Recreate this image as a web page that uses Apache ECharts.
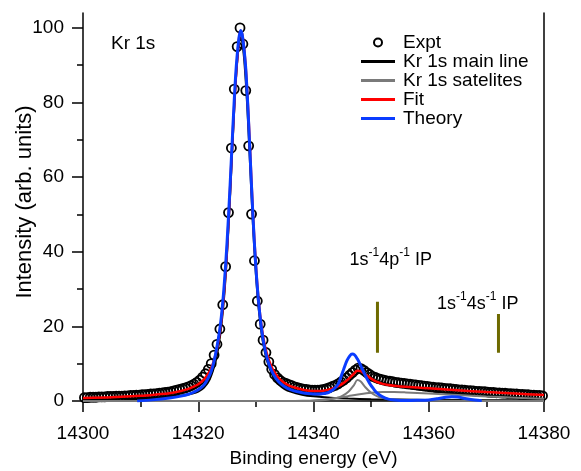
<!DOCTYPE html>
<html><head><meta charset="utf-8">
<script src="https://cdn.jsdelivr.net/npm/echarts@6/dist/echarts.min.js"></script>
<style>html,body{margin:0;padding:0;background:#fff}#c{width:581px;height:471px}</style>
</head><body><div id="c"></div>
<script>
// ---------------- data ----------------
const exptEnergy = [
14300.25,14300.75,14301.25,14301.75,14302.25,14302.75,14303.25,14303.75,14304.25,14304.75,
14305.25,14305.75,14306.25,14306.75,14307.25,14307.75,14308.25,14308.75,14309.25,14309.75,
14310.25,14310.75,14311.25,14311.75,14312.25,14312.75,14313.25,14313.75,14314.25,14314.75,
14315.25,14315.75,14316.25,14316.75,14317.25,14317.75,14318.25,14318.75,14319.25,14319.75,
14320.25,14320.75,14321.25,14321.75,14322.25,14322.75,14323.25,14323.75,14324.25,14324.75,
14325.25,14325.75,14326.25,14326.75,14327.25,14327.75,14328.25,14328.75,14329.25,14329.75,
14330.25,14330.75,14331.25,14331.75,14332.25,14332.75,14333.25,14333.75,14334.25,14334.75,
14335.25,14335.75,14336.25,14336.75,14337.25,14337.75,14338.25,14338.75,14339.25,14339.75,
14340.25,14340.75,14341.25,14341.75,14342.25,14342.75,14343.25,14343.75,14344.25,14344.75,
14345.25,14345.75,14346.25,14346.75,14347.25,14347.75,14348.25,14348.75,14349.25,14349.75,
14350.25,14350.75,14351.25,14351.75,14352.25,14352.75,14353.25,14353.75,14354.25,14354.75,
14355.25,14355.75,14356.25,14356.75,14357.25,14357.75,14358.25,14358.75,14359.25,14359.75,
14360.25,14360.75,14361.25,14361.75,14362.25,14362.75,14363.25,14363.75,14364.25,14364.75,
14365.25,14365.75,14366.25,14366.75,14367.25,14367.75,14368.25,14368.75,14369.25,14369.75,
14370.25,14370.75,14371.25,14371.75,14372.25,14372.75,14373.25,14373.75,14374.25,14374.75,
14375.25,14375.75,14376.25,14376.75,14377.25,14377.75,14378.25,14378.75,14379.25,14379.75];
const exptIntensity = [
0.9,0.9,1.0,1.0,1.0,1.1,1.1,1.1,1.2,1.2,
1.2,1.3,1.3,1.3,1.4,1.4,1.5,1.5,1.6,1.6,
1.7,1.7,1.8,1.9,1.9,2.0,2.1,2.2,2.3,2.4,
2.5,2.7,2.9,3.1,3.3,3.5,3.8,4.1,4.5,5.0,
5.6,6.4,7.3,8.5,10.0,12.3,15.2,19.3,25.8,36.0,
50.5,67.8,83.6,95.0,100.0,95.7,83.2,68.4,50.1,37.6,
26.8,20.6,16.3,13.0,10.5,8.5,7.1,6.2,5.5,5.0,
4.7,4.4,4.1,3.8,3.6,3.4,3.2,3.1,3.0,2.9,
2.9,2.9,3.0,3.1,3.3,3.6,3.9,4.2,4.6,5.1,
5.6,6.2,6.9,7.6,8.3,8.8,8.7,8.2,7.6,7.1,
6.6,6.3,6.0,5.8,5.6,5.4,5.3,5.2,5.0,4.9,
4.8,4.7,4.6,4.5,4.4,4.3,4.2,4.1,4.0,3.9,
3.8,3.7,3.6,3.6,3.5,3.4,3.3,3.3,3.2,3.1,
3.0,3.0,2.9,2.8,2.8,2.7,2.6,2.6,2.5,2.5,
2.4,2.3,2.3,2.2,2.2,2.1,2.1,2.0,2.0,1.9,
1.9,1.8,1.8,1.7,1.7,1.6,1.6,1.5,1.5,1.4];

const mainEnergy = [14300,14305,14310,14314,14317,14319,14320,14321,14322,14323,14323.5,14324,14324.5,14325,14325.5,14326,14326.5,14327,14327.3,14327.6,14328,14328.5,14329,14329.5,14330,14330.5,14331,14331.5,14332,14333,14334,14335,14336,14338,14340,14343,14346,14350,14355,14360,14370,14380];
const mainIntensity = [0.45,0.55,0.75,1.0,1.4,2.0,2.5,3.6,5.8,10.5,14.5,20,28,39.5,54,70.5,85.5,95,97.5,96.5,91,79,63,47,34,24.5,18,13.5,10.5,6.5,4.4,3.2,2.5,1.7,1.25,0.85,0.65,0.5,0.38,0.3,0.22,0.17];

const sat1Energy = [14300,14338,14340,14342,14343,14344,14345,14346,14347,14347.6,14348.2,14349,14350,14351,14352,14354,14357,14362,14380];
const sat1Intensity = [0,0,0.1,0.3,0.5,0.8,1.4,2.4,4.2,5.6,5.2,3.7,2.2,1.3,0.8,0.35,0.15,0.05,0];

const sat2Energy = [14300,14336,14338,14340,14342,14344,14346,14348,14350,14352,14354,14356,14360,14365,14370,14375,14380];
const sat2Intensity = [0,0,0.05,0.15,0.4,0.8,1.3,1.8,2.2,2.4,2.4,2.3,2.0,1.6,1.2,0.9,0.6];

const fitEnergy = [14300,14305,14310,14313,14315,14317,14318,14319,14320,14321,14322,14322.5,14323,14323.5,14324,14324.5,14325,14325.5,14326,14326.5,14327,14327.3,14327.6,14328,14328.5,14329,14329.5,14330,14330.5,14331,14331.5,14332,14332.5,14333,14334,14335,14336,14337,14338,14339,14340,14341,14342,14343,14344,14345,14346,14347,14347.6,14348.2,14349,14350,14351,14352,14353,14354,14356,14358,14360,14365,14370,14375,14380];
const fitIntensity = [0.8,1.0,1.4,1.8,2.1,2.7,3.1,3.7,4.5,5.8,8.0,9.8,12.4,16.0,21.5,29.5,41,56,72,86,96,99.2,98.5,94,83,67,50,36.5,26.5,19.8,15.3,12.2,10.0,8.3,6.1,4.8,4.0,3.5,3.1,2.8,2.65,2.65,2.85,3.2,3.8,4.6,5.8,7.3,8.1,8.0,7.1,6.0,5.1,4.6,4.3,4.1,3.8,3.6,3.4,2.9,2.4,2.0,1.6];

const theoryEnergy = [14309.4,14312,14315,14317,14318.5,14320,14321,14322,14322.5,14323,14323.5,14324,14324.5,14325,14325.5,14326,14326.5,14327,14327.35,14327.7,14328.2,14328.7,14329.2,14329.7,14330.2,14330.7,14331.2,14331.7,14332.2,14332.7,14333.5,14334.5,14335.5,14336.5,14337.5,14338.5,14339.5,14340.5,14341.5,14342.5,14343.2,14343.8,14344.3,14344.8,14345.3,14345.8,14346.3,14346.7,14347.1,14347.6,14348.1,14348.6,14349.2,14349.8,14350.4,14351,14352,14353,14354,14356,14358,14360,14361.5,14363,14364,14365,14366.5,14368,14369.2];
const theoryIntensity = [0.0,0.3,0.8,1.3,1.9,3.0,4.3,7.0,9.2,12.5,16.8,22.5,31,42.5,57,73,87.5,96.5,99.3,97.5,90,76,59,43.5,31.5,23,17,13,10.2,8.2,6.0,4.4,3.4,2.8,2.4,2.1,1.95,1.9,1.95,2.2,2.8,3.6,4.6,6.6,8.8,10.8,12.1,12.6,12.4,11.3,9.8,8.1,6.2,4.6,3.3,2.2,1.1,0.5,0.3,0.15,0.2,0.3,0.6,1.0,1.15,1.05,0.6,0.25,0.1];

const ipEnergy = [14351.1, 14372.1];
const ipLineTop = [26.6, 23.3];
const ipLineBottom = [12.9, 12.9];
const ipLabelEnergy = [14353.4, 14368.5];
const ipLabelIntensity = [38.3, 26.5];
const ipLabelOrbital = ['4p', '4s'];

const yMajorTicks = [0, 20, 40, 60, 80, 100];
const yMinorTicks = [10, 30, 50, 70, 90];
const legendNames = ['Expt', 'Kr 1s main line', 'Kr 1s satelites', 'Fit', 'Theory'];

// ---------------- chart ----------------
const FONT = 'Liberation Sans, Arial, sans-serif';
const pairs = (xs, ys) => xs.map((x, i) => [x, ys[i]]);
const chart = echarts.init(document.getElementById('c'), null, {renderer: 'canvas'});
const LINE_ICON = 'path://M0,0L34,0L34,3L0,3Z';

const ipSeries = ipEnergy.map((e, i) => ({
  type: 'line', name: 'ip' + i,
  data: [[e, ipLineBottom[i]], [e, ipLineTop[i]]],
  symbol: 'none', lineStyle: {color: '#6e6a00', width: 3}, z: 6, silent: true
}));

const option = {
  animation: false,
  backgroundColor: '#fff',
  textStyle: {fontFamily: FONT},
  title: {text: 'Kr 1s', left: 111, top: 34, padding: 0,
    textStyle: {fontFamily: FONT, fontSize: 19, fontWeight: 'normal', color: '#000'}},
  legend: {
    data: [
      {name: 'Expt', icon: 'circle', itemStyle: {color: 'rgba(255,255,255,0)', borderColor: '#000', borderWidth: 2, opacity: 1}},
      {name: 'Kr 1s main line', icon: LINE_ICON},
      {name: 'Kr 1s satelites', icon: LINE_ICON},
      {name: 'Fit', icon: LINE_ICON},
      {name: 'Theory', icon: LINE_ICON}
    ],
    orient: 'vertical', left: 361, top: 33, padding: 0,
    itemWidth: 34, itemHeight: 8, itemGap: 0,
    textStyle: {fontFamily: FONT, fontSize: 19, color: '#000', padding: [0, 0, 0, 3], lineHeight: 19},
    selectedMode: false
  },
  grid: {left: 83, right: 37, top: 13, bottom: 70, containLabel: false, outerBoundsMode: 'none'},
  xAxis: {
    type: 'value', min: 14300, max: 14380, interval: 20,
    name: 'Binding energy (eV)', nameLocation: 'middle', nameGap: 48, nameMoveOverlap: false,
    nameTextStyle: {fontFamily: FONT, fontSize: 19, color: '#000'},
    axisLine: {show: true, onZero: false, lineStyle: {color: '#000', width: 1.5}},
    axisTick: {show: true, inside: false, length: 11, lineStyle: {color: '#000', width: 1.5}},
    minorTick: {show: true, splitNumber: 2, length: 6, lineStyle: {color: '#000', width: 1.5}},
    axisLabel: {fontFamily: FONT, fontSize: 19, color: '#000', margin: 23, formatter: v => String(v)},
    splitLine: {show: false}, minorSplitLine: {show: false}
  },
  yAxis: [
    {
      type: 'value', min: 0, max: 104, position: 'left',
      name: 'Intensity (arb. units)', nameLocation: 'middle', nameGap: 47, nameRotate: 90, nameMoveOverlap: false,
      nameTextStyle: {fontFamily: FONT, fontSize: 22, color: '#000', padding: [0, 0, 0, 10]},
      axisLine: {show: true, onZero: false, lineStyle: {color: '#000', width: 1.5}},
      axisTick: {show: true, inside: false, length: 11, customValues: yMajorTicks, lineStyle: {color: '#000', width: 1.5}},
      axisLabel: {fontFamily: FONT, fontSize: 19, color: '#000', margin: 19, customValues: yMajorTicks},
      splitLine: {show: false}
    },
    {
      type: 'value', min: 0, max: 104, position: 'left', offset: 0,
      axisLine: {show: false},
      axisTick: {show: true, inside: false, length: 6, customValues: yMinorTicks, lineStyle: {color: '#000', width: 1.5}},
      axisLabel: {show: false}, splitLine: {show: false}
    },
    {
      type: 'value', min: 0, max: 104, position: 'right', offset: 0,
      axisLine: {show: true, onZero: false, lineStyle: {color: '#000', width: 1.5}},
      axisTick: {show: false}, axisLabel: {show: false}, splitLine: {show: false}
    }
  ],
  series: [
    {
      type: 'scatter', name: 'Expt', data: pairs(exptEnergy, exptIntensity),
      symbol: 'circle', symbolSize: 9,
      itemStyle: {color: 'rgba(255,255,255,0)', borderColor: '#000', borderWidth: 1.8, opacity: 1}, z: 2
    },
    {
      type: 'line', name: 'Kr 1s main line', data: pairs(mainEnergy, mainIntensity),
      symbol: 'none', smooth: 0.3, lineStyle: {color: '#000', width: 2}, itemStyle: {color: '#000'}, z: 3
    },
    {
      type: 'line', name: 'Kr 1s satelites', data: pairs(sat1Energy, sat1Intensity),
      symbol: 'none', smooth: 0.3, lineStyle: {color: '#7a7a7a', width: 2}, itemStyle: {color: '#7a7a7a'}, z: 3
    },
    {
      type: 'line', name: 'Kr 1s satelites', data: pairs(sat2Energy, sat2Intensity),
      symbol: 'none', smooth: 0.3, lineStyle: {color: '#7a7a7a', width: 2}, itemStyle: {color: '#7a7a7a'}, z: 3
    },
    {
      type: 'line', name: 'Fit', data: pairs(fitEnergy, fitIntensity),
      symbol: 'none', smooth: 0.3, lineStyle: {color: '#ff0000', width: 2.5}, itemStyle: {color: '#ff0000'}, z: 4
    },
    {
      type: 'line', name: 'Theory', data: pairs(theoryEnergy, theoryIntensity),
      symbol: 'none', smooth: 0.3, lineStyle: {color: '#0a3cff', width: 3}, itemStyle: {color: '#0a3cff'}, z: 5
    },
    ...ipSeries,
    {
      type: 'scatter', name: 'ipLabels', symbolSize: 0, silent: true, z: 7,
      itemStyle: {opacity: 1},
      data: ipLabelEnergy.map((e, i) => ({
        value: [e, ipLabelIntensity[i]],
        label: {
          show: true, position: 'inside', color: '#000', textBorderWidth: 0,
          formatter: '{n|1s}{s|-1}{n|' + ipLabelOrbital[i] + '}{s|-1}{n| IP}',
          rich: {
            n: {fontFamily: FONT, fontSize: 18, color: '#000', lineHeight: 22, verticalAlign: 'bottom'},
            s: {fontFamily: FONT, fontSize: 12, color: '#000', lineHeight: 12, verticalAlign: 'top'}
          }
        }
      }))
    }
  ]
};
chart.setOption(option);
</script>
</body></html>
